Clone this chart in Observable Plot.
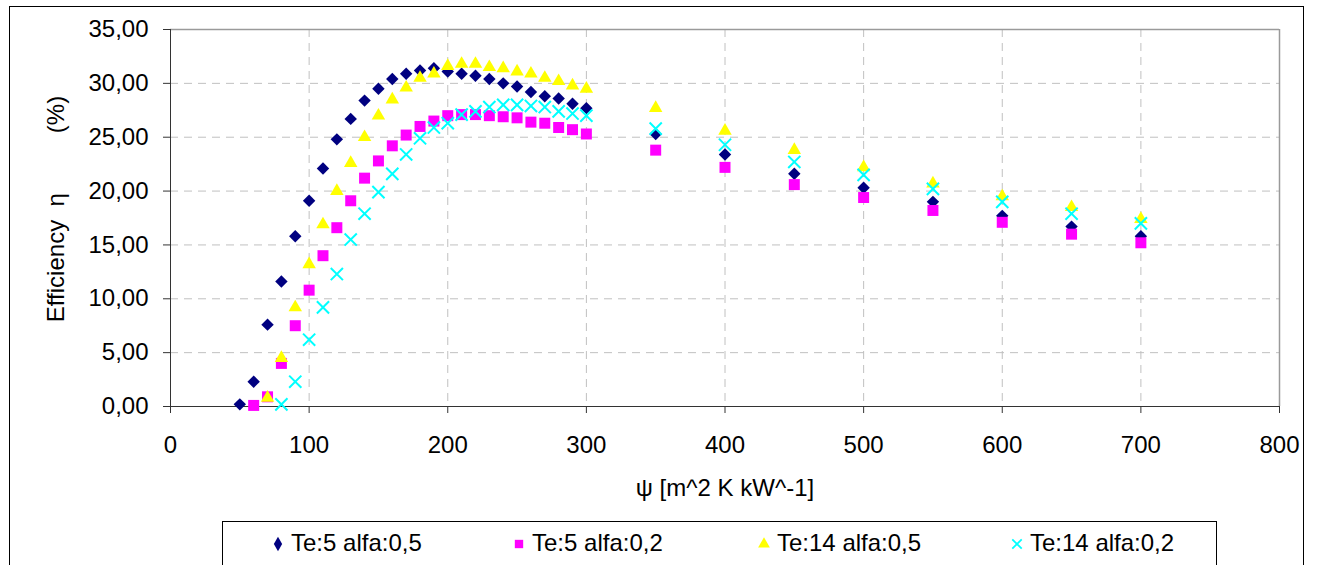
<!DOCTYPE html>
<html>
<head>
<meta charset="utf-8">
<script src="https://cdn.jsdelivr.net/npm/d3@7"></script>
<script src="https://cdn.jsdelivr.net/npm/@observablehq/plot@0.6"></script>
<style>
  html, body { margin: 0; padding: 0; background: #fff; overflow: hidden; }
  #wrap { position: relative; width: 1317px; height: 565px; overflow: hidden; font-family: "Liberation Sans", Arial, sans-serif; }
  #outer { position: absolute; left: 9px; top: 6px; width: 1295px; height: 700px; border: 1px solid #000; box-sizing: border-box; }
  #chart { position: absolute; left: 0; top: 0; }
  #legend { position: absolute; left: 222px; top: 521px; width: 995px; height: 80px; border: 1px solid #000; box-sizing: border-box; background: #fff; }
  .item { position: absolute; top: 7px; display: flex; align-items: center; font-size: 24px; color: #000; white-space: nowrap; }
  .item svg { margin-right: 6px; }
</style>
</head>
<body>
<div id="wrap">
  <div id="outer"></div>
  <div id="chart"></div>
  <div id="legend"></div>
</div>
<script>
// ---- data ----
const psi = [50, 60, 70, 80, 90, 100, 110, 120, 130, 140, 150, 160, 170, 180, 190, 200, 210, 220, 230, 240, 250, 260, 270, 280, 290, 300, 350, 400, 450, 500, 550, 600, 650, 700];
const te5alfa05 = [0.2, 2.3, 7.6, 11.6, 15.8, 19.1, 22.1, 24.8, 26.7, 28.4, 29.5, 30.4, 30.9, 31.2, 31.4, 31.1, 30.9, 30.7, 30.4, 30.0, 29.7, 29.2, 28.8, 28.6, 28.1, 27.7, 25.3, 23.4, 21.6, 20.3, 19.0, 17.7, 16.7, 15.8];
const te5alfa02 = [null, 0.1, 0.9, 4.0, 7.5, 10.8, 14.0, 16.6, 19.1, 21.2, 22.8, 24.2, 25.2, 26.0, 26.5, 27.0, 27.1, 27.1, 27.0, 26.9, 26.8, 26.4, 26.3, 25.9, 25.7, 25.3, 23.8, 22.2, 20.6, 19.4, 18.2, 17.1, 16.0, 15.2];
const te14alfa05 = [null, null, 0.8, 4.5, 9.2, 13.2, 16.9, 20.0, 22.6, 25.0, 27.0, 28.5, 29.6, 30.5, 30.9, 31.6, 31.8, 31.8, 31.5, 31.4, 31.1, 30.9, 30.5, 30.2, 29.8, 29.5, 27.7, 25.6, 23.8, 22.2, 20.7, 19.5, 18.5, 17.4];
const te14alfa02 = [null, null, null, 0.2, 2.3, 6.2, 9.2, 12.3, 15.5, 17.9, 19.9, 21.6, 23.4, 24.9, 25.9, 26.3, 27.1, 27.4, 27.8, 28.0, 28.0, 27.9, 27.8, 27.4, 27.2, 27.0, 25.8, 24.3, 22.7, 21.5, 20.2, 19.0, 17.9, 17.0];
const seriesNames = ["Te:5 alfa:0,5", "Te:5 alfa:0,2", "Te:14 alfa:0,5", "Te:14 alfa:0,2"];
const xTicks = [0, 100, 200, 300, 400, 500, 600, 700, 800];
const yTicks = [0, 5, 10, 15, 20, 25, 30, 35];
const xLabel = "ψ [m^2 K kW^-1]";
const yLabel = "Efficiency\u00A0\u00A0η\u00A0\u00A0\u00A0\u00A0\u00A0\u00A0\u00A0\u00A0\u00A0(%)";

const toRows = (vals) => psi.map((x, i) => ({x, y: vals[i]})).filter(d => d.y != null);
const fmt = d => d.toFixed(2).replace(".", ",");

const styles = [
  {symbol: "diamond2", fill: "#000080", r: 5.6},
  {symbol: "square", fill: "#FF00FF", r: 6.2},
  {symbol: "triangle", fill: "#FFFF00", r: 5.0},
  {symbol: "times", stroke: "#00FFFF", r: 5.6, strokeWidth: 2}
];
const allSeries = [te5alfa05, te5alfa02, te14alfa05, te14alfa02];

const dotMarks = allSeries.map((vals, k) => {
  const s = styles[k];
  const opts = {x: "x", y: "y", symbol: s.symbol, r: s.r};
  if (s.fill) { opts.fill = s.fill; opts.stroke = "none"; }
  else { opts.stroke = s.stroke; opts.strokeWidth = s.strokeWidth; opts.fill = "none"; }
  return Plot.dot(toRows(vals), opts);
});

const chart = Plot.plot({
  width: 1317,
  height: 510,
  marginLeft: 170,
  marginRight: 38,
  marginTop: 29,
  marginBottom: 104,
  style: {fontFamily: "'Liberation Sans', Arial, sans-serif", fontSize: "24px", background: "transparent", color: "#000"},
  x: {domain: [0, 800]},
  y: {domain: [0, 35]},
  marks: [
    Plot.gridX(xTicks, {stroke: "#c0c0c0", strokeOpacity: 1, strokeDasharray: "8,6"}),
    Plot.gridY(yTicks, {stroke: "#c0c0c0", strokeOpacity: 1, strokeDasharray: "8,6"}),
    Plot.ruleY([35], {stroke: "#9a9a9a", strokeWidth: 1.5}),
    Plot.ruleX([800], {stroke: "#9a9a9a", strokeWidth: 1.5}),
    Plot.axisX(xTicks, {tickSize: 7, tickPadding: 22, label: null, stroke: "#333", fill: "#000", fontSize: 24}),
    Plot.axisY(yTicks, {tickSize: 7, tickPadding: 15, tickFormat: fmt, label: null, stroke: "#333", fill: "#000", fontSize: 24}),
    Plot.ruleX([0], {stroke: "#333"}),
    Plot.ruleY([0], {stroke: "#333"}),
    ...dotMarks,
    Plot.text([xLabel], {frameAnchor: "bottom", dy: 82, lineAnchor: "middle", textAnchor: "middle", fontSize: 24, fill: "#000"}),
    Plot.text([yLabel], {frameAnchor: "left", dx: -114, dy: -9, rotate: -90, lineAnchor: "middle", textAnchor: "middle", fontSize: 24, fill: "#000"})
  ]
});
document.getElementById("chart").appendChild(chart);

// ---- legend ----
const legend = document.getElementById("legend");
const itemLeft = [48, 289, 534, 787];
const legendSym = [
  {type: d3.symbolDiamond, size: 60, fill: "#000080"},
  {type: d3.symbolSquare, size: 70, fill: "#FF00FF"},
  {type: d3.symbolTriangle, size: 60, fill: "#FFFF00"},
  {type: d3.symbolTimes, size: 60, stroke: "#00FFFF"}
];
seriesNames.forEach((name, k) => {
  const div = document.createElement("div");
  div.className = "item";
  div.style.left = itemLeft[k] + "px";
  const s = legendSym[k];
  const svg = d3.create("svg").attr("width", 14).attr("height", 20);
  svg.append("path")
    .attr("transform", "translate(7,11)")
    .attr("d", d3.symbol(s.type, s.size)())
    .attr("fill", s.fill || "none")
    .attr("stroke", s.stroke || "none")
    .attr("stroke-width", s.stroke ? 1.8 : 0);
  div.appendChild(svg.node());
  const span = document.createElement("span");
  span.textContent = name;
  div.appendChild(span);
  legend.appendChild(div);
});
</script>
</body>
</html>
